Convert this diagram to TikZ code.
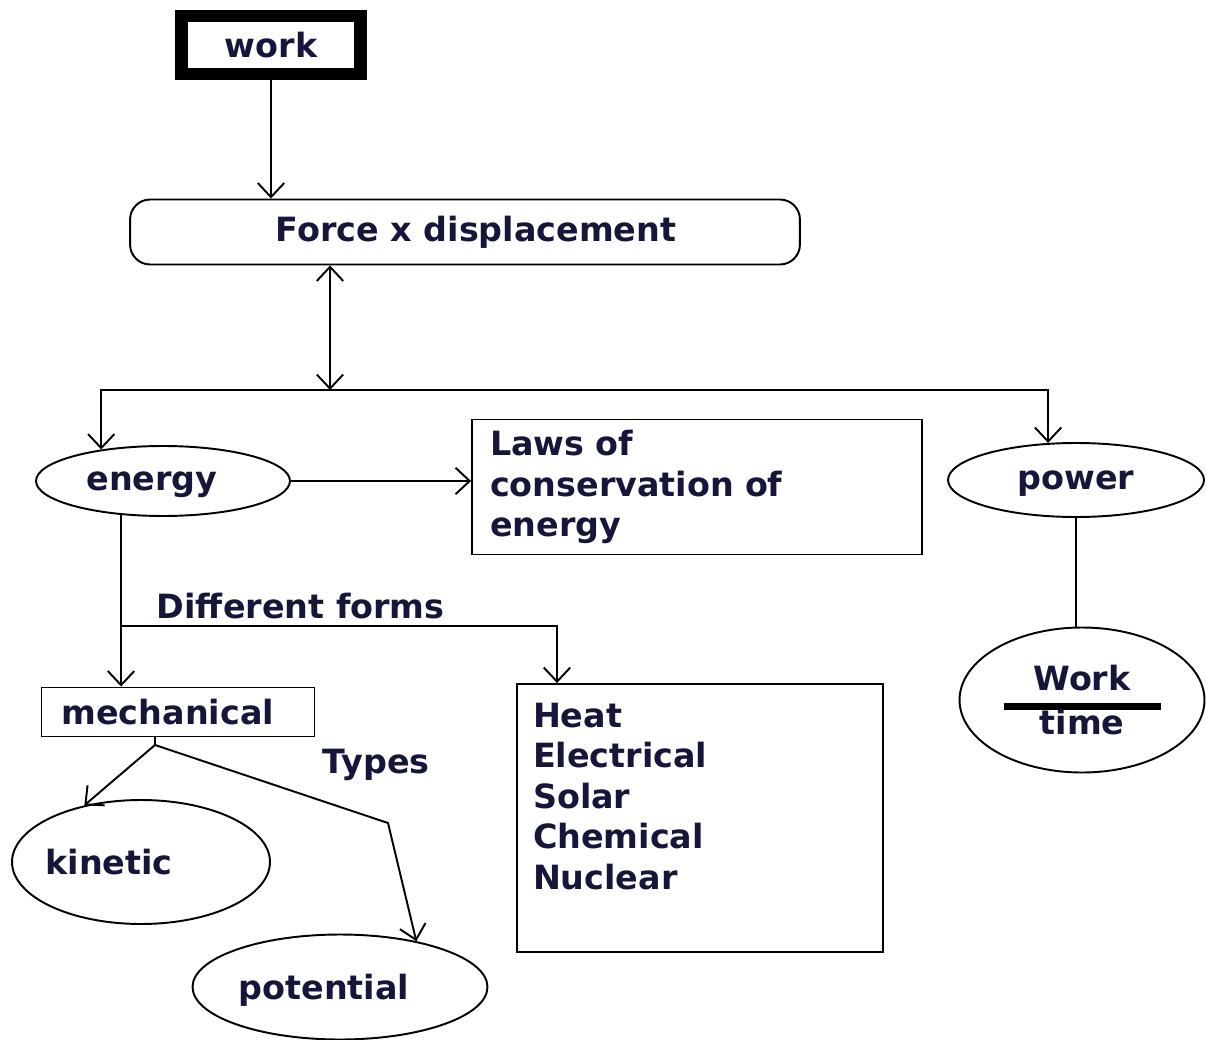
\documentclass[tikz,border=0pt]{standalone}
\usepackage{fontspec}
\setmainfont{DejaVu Sans}
\usetikzlibrary{arrows.meta,shapes.geometric}
\definecolor{ink}{RGB}{22,22,58}
\tikzset{
  every node/.style={font=\fontsize{19}{23}\selectfont\bfseries, text=ink},
  box/.style={draw, rectangle, line width=1.1pt},
  oval/.style={draw, ellipse, inner sep=0pt, text depth=0pt, line width=1.1pt},
}

\begin{document}
\begin{tikzpicture}[x=0.02cm, y=-0.02cm, line width=1.1pt,
    >={Straight Barb[length=8pt,width=15pt]}]
      \useasboundingbox (0,0) rectangle (1206,1040);
      \draw
        (271,45) node[box, line width=7.1pt, minimum width=3.58cm, minimum height=1.16cm] (work){work}
        (465,232) node[box, rounded corners=0.4cm, minimum width=13.4cm, minimum height=1.3cm] (force){\hspace*{0.44cm}Force x displacement}
        (163,481) node[oval, minimum width=5.08cm, minimum height=1.4cm] (energy){\hspace*{-0.44cm}energy}
        (697,487) node[box, minimum height=2.7cm, text width=8.28cm, inner xsep=0.36cm, align=left] (laws){Laws of\\conservation of\\energy}
        (1076,480) node[oval, minimum width=5.12cm, minimum height=1.48cm] (power){power}
        (1082,700) node[oval, minimum width=4.9cm, minimum height=2.9cm, align=center] (worktime){Work\\[-12pt]{\color{black}\rule{3.14cm}{4pt}}\\[-9pt]time}
        (150,606) node[anchor=west] (forms){Different forms}
        (178,712) node[box, minimum height=0.98cm, text width=4.66cm, inner xsep=0.4cm, align=left] (mech){mechanical}
        (700,818) node[box, inner xsep=0.32cm, inner ysep=0.38cm] (heat){\parbox[c][4.6cm][t]{6.68cm}{Heat\\Electrical\\Solar\\Chemical\\Nuclear}}
        (376,765) node (types){Types}
        (141,862) node[oval, minimum width=5.16cm, minimum height=2.48cm] (kinetic){\hspace*{-1.28cm}kinetic}
        (340,987) node[oval, minimum width=5.9cm, minimum height=2.1cm] (potential){\hspace*{-0.64cm}potential};
      \coordinate (bus) at (330,390);
      \coordinate (splitR) at (557,626);
      \coordinate (split) at (energy.219 |- splitR);
      \coordinate (mfork) at (155,745);
      \coordinate (bend) at (388,823);
      \begin{scope}[->]
        \draw (work) to (work |- force.north);
        \draw[<->] (bus |- force.south) to (bus);
        \draw (bus) -| (energy.153);
        \draw (bus) -| (power.127);
        \draw (energy.east) to (energy.east -| laws.west);
        \draw (energy.219) to (energy.219 |- mech.north);
        \draw (split) -- (splitR) -- (splitR |- heat.north);
        \draw (mfork) to (kinetic.135);
        \draw (mfork) -- (bend) -- (potential.31);
      \end{scope}
      \draw (mech.south -| mfork) to (mfork);
      \draw (power.south) to (power.south |- worktime.north);
    \end{tikzpicture}
\end{document}
